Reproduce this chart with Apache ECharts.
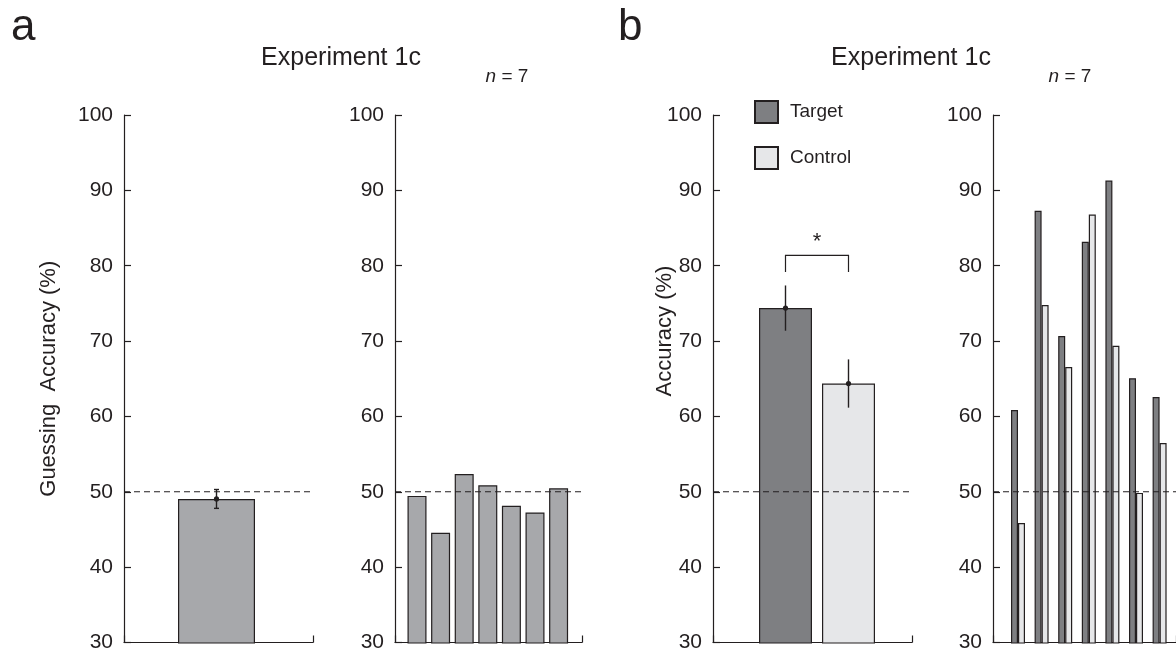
<!DOCTYPE html>
<html>
<head>
<meta charset="utf-8">
<script src="https://cdn.jsdelivr.net/npm/echarts@6/dist/echarts.min.js"></script>
<style>html,body{margin:0;padding:0;background:#fff}#c{width:1176px;height:653px}</style>
</head>
<body>
<div id="c"></div>
<script>
// ---------- data ----------
const chance = 50;
const yMin = 30, yMax = 100, yStep = 10;
const aGroup = ['Experiment 1c'];
const aMean = [49.1];
const aSem = [1.25];
const aSubjects = ['1', '2', '3', '4', '5', '6', '7'];
const aValues = [49.5, 44.6, 52.4, 50.9, 48.2, 47.3, 50.5];
const bConditions = ['Target', 'Control'];
const bMeans = [74.4, 64.4];
const bSems = [3.0, 3.2];
const bSigLevels = [81.4, 79.2];
const bSubjects = ['1', '2', '3', '4', '5', '6', '7'];
const bTarget = [60.9, 87.3, 70.7, 83.2, 91.3, 65.1, 62.6];
const bControl = [45.9, 74.8, 66.6, 86.8, 69.4, 49.9, 56.5];

// ---------- style ----------
const FONT = '"Liberation Sans", Arial, Helvetica, sans-serif';
const INK = '#231f20';
const cA = '#a7a8ab', cT = '#7e7f82', cC = '#e6e7e9';
const TOP = 115, H = 528;

const chart = echarts.init(document.getElementById('c'));

const frames = [ {left:124, width:189}, {left:395, width:187}, {left:713, width:199}, {left:993, width:192} ];
const barGrids = [ {left:122, width:189}, {left:405.2, width:165.2}, {left:754, width:126}, {left:1006.2, width:165.2} ];

const grid = [];
const xAxis = [];
const yAxis = [];
frames.forEach((f) => {
  grid.push({left:f.left, width:f.width, top:TOP, height:H});
});
barGrids.forEach((g) => {
  grid.push({left:g.left, width:g.width, top:TOP, height:H});
});
// frame axes (grid 0..3)
frames.forEach((f, i) => {
  xAxis.push({gridIndex:i, type:'value', min:0, max:1, interval:1,
    axisLine:{show:true, lineStyle:{color:INK, width:1.2}},
    axisTick:{show:true, inside:true, length:7, lineStyle:{color:INK, width:1.2}},
    axisLabel:{show:false}, splitLine:{show:false}});
  yAxis.push({gridIndex:i, type:'value', min:yMin, max:yMax, interval:yStep,
    name: i === 0 ? 'Guessing  Accuracy (%)' : '',
    nameLocation:'middle', nameGap:64,
    nameTextStyle:{fontFamily:FONT, fontSize:22, color:INK},
    axisLine:{show:true, lineStyle:{color:INK, width:1.2}},
    axisTick:{show:true, inside:true, length:7, lineStyle:{color:INK, width:1.2}},
    axisLabel:{show:true, margin:11, fontFamily:FONT, fontSize:21, color:INK},
    splitLine:{show:false}});
});
// bar axes (grid 4..7)
const barCats = [aGroup, aSubjects, bConditions, bSubjects];
barCats.forEach((cats, i) => {
  xAxis.push({gridIndex:4+i, type:'category', data:cats, show:false});
  yAxis.push({gridIndex:4+i, type:'value', min:yMin, max:yMax, show:false});
});

const series = [];
// chance lines
for (let i = 0; i < 4; i++) {
  series.push({type:'line', xAxisIndex:i, yAxisIndex:i, data:[[0,chance],[1,chance]],
    symbol:'none', silent:true, z:5,
    lineStyle:{color:INK, width:1.1, type:[6,4]}});
}
const border = {borderColor:INK, borderWidth:1.2};

// panel a left
series.push({type:'bar', xAxisIndex:4, yAxisIndex:4, data:aMean, barWidth:77,
  itemStyle:Object.assign({color:cA}, border), z:3});
// panel a right
series.push({type:'bar', xAxisIndex:5, yAxisIndex:5, data:aValues, barWidth:19,
  itemStyle:Object.assign({color:cA}, border), z:3});
// panel b left
series.push({type:'bar', name:'Target', xAxisIndex:6, yAxisIndex:6,
  data:[bMeans[0], '-'], barWidth:53, barGap:'-100%',
  itemStyle:Object.assign({color:cT}, border), z:3});
series.push({type:'bar', name:'Control', xAxisIndex:6, yAxisIndex:6,
  data:['-', bMeans[1]], barWidth:53, barGap:'-100%',
  itemStyle:Object.assign({color:cC}, border), z:3});
// panel b right
series.push({type:'bar', name:'Target', xAxisIndex:7, yAxisIndex:7, data:bTarget,
  barWidth:7, barGap:'0%', itemStyle:Object.assign({color:cT}, border), z:3});
series.push({type:'bar', name:'Control', xAxisIndex:7, yAxisIndex:7, data:bControl,
  barWidth:7, barGap:'0%', itemStyle:Object.assign({color:cC}, border), z:3});

function errRender(caps) {
  return function (params, api) {
    const x = api.value(0), m = api.value(1), e = api.value(2);
    const t = api.coord([x, m + e]), b = api.coord([x, m - e]), c = api.coord([x, m]);
    const st = {stroke:INK, lineWidth:1.4};
    const ch = [
      {type:'line', shape:{x1:t[0], y1:t[1], x2:b[0], y2:b[1]}, style:st},
      {type:'circle', shape:{cx:c[0], cy:c[1], r:2.6}, style:{fill:INK}}
    ];
    if (caps) {
      ch.push({type:'line', shape:{x1:t[0]-2.5, y1:t[1], x2:t[0]+2.5, y2:t[1]}, style:st});
      ch.push({type:'line', shape:{x1:b[0]-2.5, y1:b[1], x2:b[0]+2.5, y2:b[1]}, style:st});
    }
    return {type:'group', children:ch};
  };
}
series.push({type:'custom', xAxisIndex:4, yAxisIndex:4, z:10, silent:true,
  renderItem:errRender(true), data:aMean.map((m, i) => [i, m, aSem[i]])});
series.push({type:'custom', xAxisIndex:6, yAxisIndex:6, z:10, silent:true,
  renderItem:errRender(false), data:bMeans.map((m, i) => [i, m, bSems[i]])});
// significance bracket
series.push({type:'custom', xAxisIndex:6, yAxisIndex:6, z:10, silent:true,
  data:[[0, 1, bSigLevels[0], bSigLevels[1]]],
  renderItem:function (params, api) {
    const p0 = api.coord([api.value(0), api.value(2)]);
    const p1 = api.coord([api.value(1), api.value(2)]);
    const l0 = api.coord([api.value(0), api.value(3)]);
    const l1 = api.coord([api.value(1), api.value(3)]);
    const st = {stroke:INK, lineWidth:1.2, fill:null};
    return {type:'group', children:[
      {type:'polyline', shape:{points:[[l0[0], l0[1]], [p0[0], p0[1]], [p1[0], p1[1]], [l1[0], l1[1]]]}, style:st},
      {type:'text', style:{text:'*', x:(p0[0]+p1[0])/2, y:p0[1]-2, align:'center', verticalAlign:'bottom',
        font:'22px ' + FONT, fill:INK}}
    ]};
  }});

const txt = (text, x, y, size, extra) => Object.assign({type:'text', x:x, y:y,
  style:{text:text, font:size + 'px ' + FONT, fill:INK, align:'center', verticalAlign:'middle'}}, extra || {});

chart.setOption({
  animation:false,
  backgroundColor:'#fff',
  grid:grid, xAxis:xAxis, yAxis:yAxis, series:series,
  legend:{data:['Target','Control'], left:754, top:100, orient:'vertical', padding:0,
    itemWidth:23, itemHeight:22, itemGap:22, icon:'rect',
    textStyle:{fontFamily:FONT, fontSize:19, color:INK, padding:[0,0,0,7]}},
  graphic:[
    {type:'text', x:11, y:50, style:{text:'a', font:'44px ' + FONT, fill:INK, align:'left', verticalAlign:'bottom'}},
    {type:'text', x:618, y:50, style:{text:'b', font:'44px ' + FONT, fill:INK, align:'left', verticalAlign:'bottom'}},
    txt('Experiment 1c', 341, 58, 25),
    txt('Experiment 1c', 911, 58, 25),
    {type:'text', x:507, y:77, style:{text:'{i|n} = 7', align:'center', verticalAlign:'middle',
      font:'19px ' + FONT, fill:INK, rich:{i:{fontStyle:'italic', fontFamily:FONT, fontSize:19, fill:INK}}}},
    {type:'text', x:1070, y:77, style:{text:'{i|n} = 7', align:'center', verticalAlign:'middle',
      font:'19px ' + FONT, fill:INK, rich:{i:{fontStyle:'italic', fontFamily:FONT, fontSize:19, fill:INK}}}},
    txt('Accuracy (%)', 665, 331, 22, {rotation:Math.PI/2})
  ]
});
</script>
</body>
</html>
